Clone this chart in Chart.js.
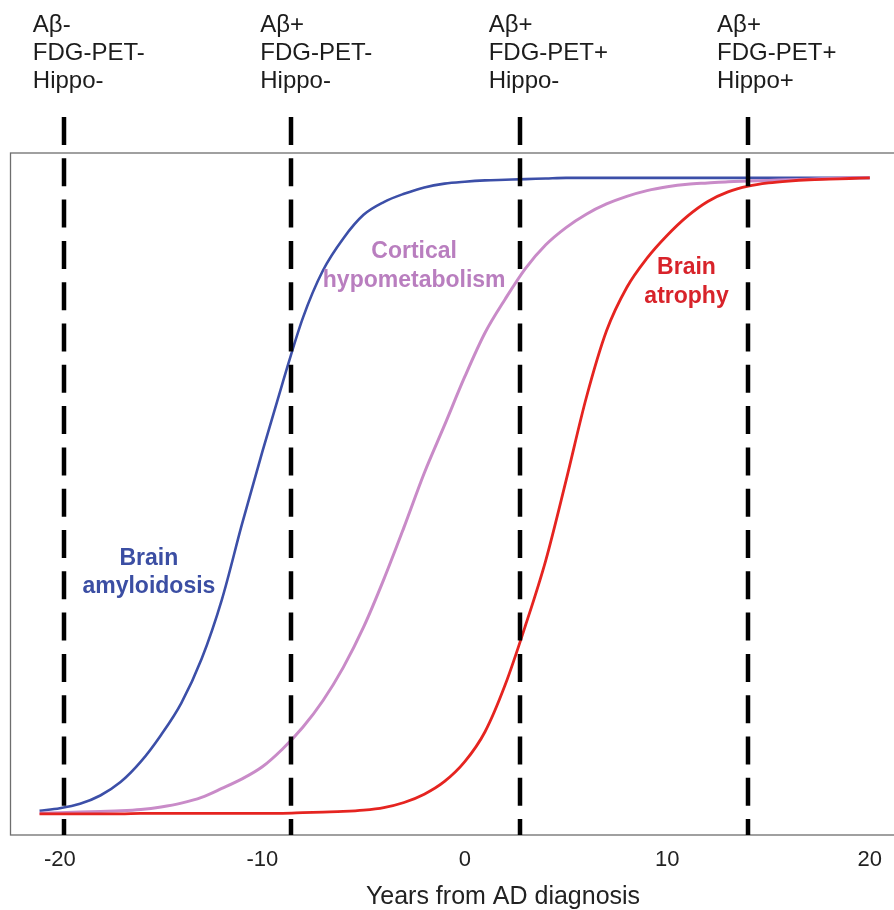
<!DOCTYPE html>
<html>
<head>
<meta charset="utf-8">
<script src="https://cdn.jsdelivr.net/npm/chart.js@4"></script>
<style>
  body { margin: 0; background: #fff; }
  #wrap { width: 894px; height: 910px; position: relative; }
</style>
</head>
<body>
<div id="wrap"><canvas id="myChart"></canvas></div>
<script>
// years from AD diagnosis
const years = [-21, -20, -19, -18, -17, -16, -15, -14, -13, -12, -11, -10, -9, -8, -7, -6, -5, -4, -3, -2, -1,
    0, 1, 2, 3, 4, 5, 6, 7, 8, 9, 10, 11, 12, 13, 14, 15, 16, 17, 18, 19, 20];

// curves (0 = normal, 1 = max abnormality)
const amyloid = [0.007, 0.011, 0.018, 0.031, 0.052, 0.084, 0.126, 0.176, 0.245, 0.338, 0.457, 0.570, 0.678, 0.780, 0.855, 0.905, 0.942, 0.962, 0.975, 0.985, 0.991,
    0.994, 0.996, 0.997, 0.998, 0.999, 1, 1, 1, 1, 1, 1, 1, 1, 1, 1, 1, 1, 1, 1, 1, 1];
const hypometab = [0.003, 0.004, 0.005, 0.006, 0.007, 0.009, 0.013, 0.019, 0.028, 0.042, 0.057, 0.076, 0.104, 0.138, 0.180, 0.232, 0.295, 0.370, 0.452, 0.537, 0.612,
    0.688, 0.757, 0.810, 0.858, 0.895, 0.922, 0.943, 0.959, 0.971, 0.980, 0.986, 0.990, 0.992, 0.994, 0.995, 0.996, 0.997, 0.998, 0.999, 1, 1];
const atrophy = [0.002, 0.002, 0.002, 0.002, 0.002, 0.003, 0.003, 0.003, 0.003, 0.003, 0.003, 0.003, 0.003, 0.004, 0.005, 0.006, 0.008, 0.012, 0.020, 0.033, 0.053,
    0.084, 0.131, 0.205, 0.298, 0.400, 0.525, 0.655, 0.760, 0.828, 0.874, 0.910, 0.940, 0.963, 0.978, 0.987, 0.992, 0.995, 0.997, 0.998, 0.999, 1];

// stage boundaries (dashed lines) and their labels
const stageYears = [-19.8, -8.57, 2.71, 13.99];
const stageLabels = [
    ['Aβ-', 'FDG-PET-', 'Hippo-'],
    ['Aβ+', 'FDG-PET-', 'Hippo-'],
    ['Aβ+', 'FDG-PET+', 'Hippo-'],
    ['Aβ+', 'FDG-PET+', 'Hippo+']
];

const xTicks = [-20, -10, 0, 10, 20];
const xTitle = 'Years from AD diagnosis';

const FONT = '"Liberation Sans", Arial, Helvetica, sans-serif';

function pts(vals) {
    return years.map((y, i) => ({ x: y, y: vals[i] }));
}

// curve names, placed in data coordinates
const curveLabels = [
    { lines: ['Brain', 'amyloidosis'], x: -15.6, y: 0.403, color: '#3b4ea3' },
    { lines: ['Cortical', 'hypometabolism'], x: -2.5, y: 0.884, color: '#b97ebf' },
    { lines: ['Brain', 'atrophy'], x: 10.95, y: 0.859, color: '#d8232a' }
];

const overlay = {
    id: 'overlay',
    afterDatasetsDraw(chart) {
        const ctx = chart.ctx;
        const a = chart.chartArea;
        const xs = chart.scales.x, ys = chart.scales.y;
        ctx.save();

        // frame (right side runs off the picture)
        ctx.strokeStyle = '#6e6e6e';
        ctx.lineWidth = 1.3;
        ctx.strokeRect(a.left + 0.5, a.top, a.right - a.left + 10, a.bottom - a.top);

        // curve names
        ctx.font = 'bold 23px ' + FONT;
        ctx.textAlign = 'center';
        ctx.textBaseline = 'middle';
        curveLabels.forEach(l => {
            const px = xs.getPixelForValue(l.x);
            const py = ys.getPixelForValue(l.y);
            ctx.fillStyle = l.color;
            l.lines.forEach((t, i) => ctx.fillText(t, px, py + i * 28.5));
        });

        // dashed stage lines
        ctx.strokeStyle = '#000';
        ctx.lineWidth = 4.5;
        ctx.setLineDash([28, 13.3]);
        stageYears.forEach(v => {
            const px = Math.round(xs.getPixelForValue(v));
            ctx.beginPath();
            ctx.moveTo(px, 117);
            ctx.lineTo(px, a.bottom);
            ctx.stroke();
        });
        ctx.setLineDash([]);

        // stage labels on top
        ctx.font = '24px ' + FONT;
        ctx.textAlign = 'left';
        ctx.fillStyle = '#1c1c1c';
        stageYears.forEach((v, k) => {
            const px = xs.getPixelForValue(v) - 31;
            stageLabels[k].forEach((t, i) => ctx.fillText(t, px, 25 + i * 28.3));
        });

        // axis title (sits a bit right of centre in the original)
        ctx.font = '25px ' + FONT;
        ctx.textAlign = 'center';
        ctx.fillStyle = '#222';
        ctx.fillText(xTitle, 503, 897);
        ctx.restore();
    }
};

const config = {
    type: 'line',
    data: {
        datasets: [
            { label: 'Brain amyloidosis', data: pts(amyloid), borderColor: '#3c4fa8', borderWidth: 2.6, order: 2 },
            { label: 'Cortical hypometabolism', data: pts(hypometab), borderColor: '#c98bc8', borderWidth: 3, order: 1 },
            { label: 'Brain atrophy', data: pts(atrophy), borderColor: '#e52420', borderWidth: 2.8, order: 0 }
        ]
    },
    options: {
        responsive: true,
        maintainAspectRatio: false,
        animation: false,
        events: [],
        elements: {
            point: { radius: 0 },
            line: { cubicInterpolationMode: 'monotone', fill: false }
        },
        layout: { padding: { left: 10, top: 153, right: 0, bottom: 0 } },
        plugins: {
            legend: { display: false },
            tooltip: { enabled: false }
        },
        scales: {
            x: {
                type: 'linear',
                min: -22.46,
                max: 21.08,
                afterFit: function (scale) { scale.height = 75; },
                afterBuildTicks: function (scale) {
                    scale.ticks = xTicks.map(v => ({ value: v }));
                },
                grid: { display: false, drawTicks: false },
                border: { display: false },
                ticks: {
                    padding: 12,
                    color: '#222',
                    font: { family: FONT, size: 22 },
                    maxRotation: 0
                },
                title: { display: false }
            },
            y: {
                display: false,
                min: -0.031,
                max: 1.039
            }
        }
    },
    plugins: [overlay]
};

const myChart = new Chart(document.getElementById('myChart'), config);
</script>
</body>
</html>
